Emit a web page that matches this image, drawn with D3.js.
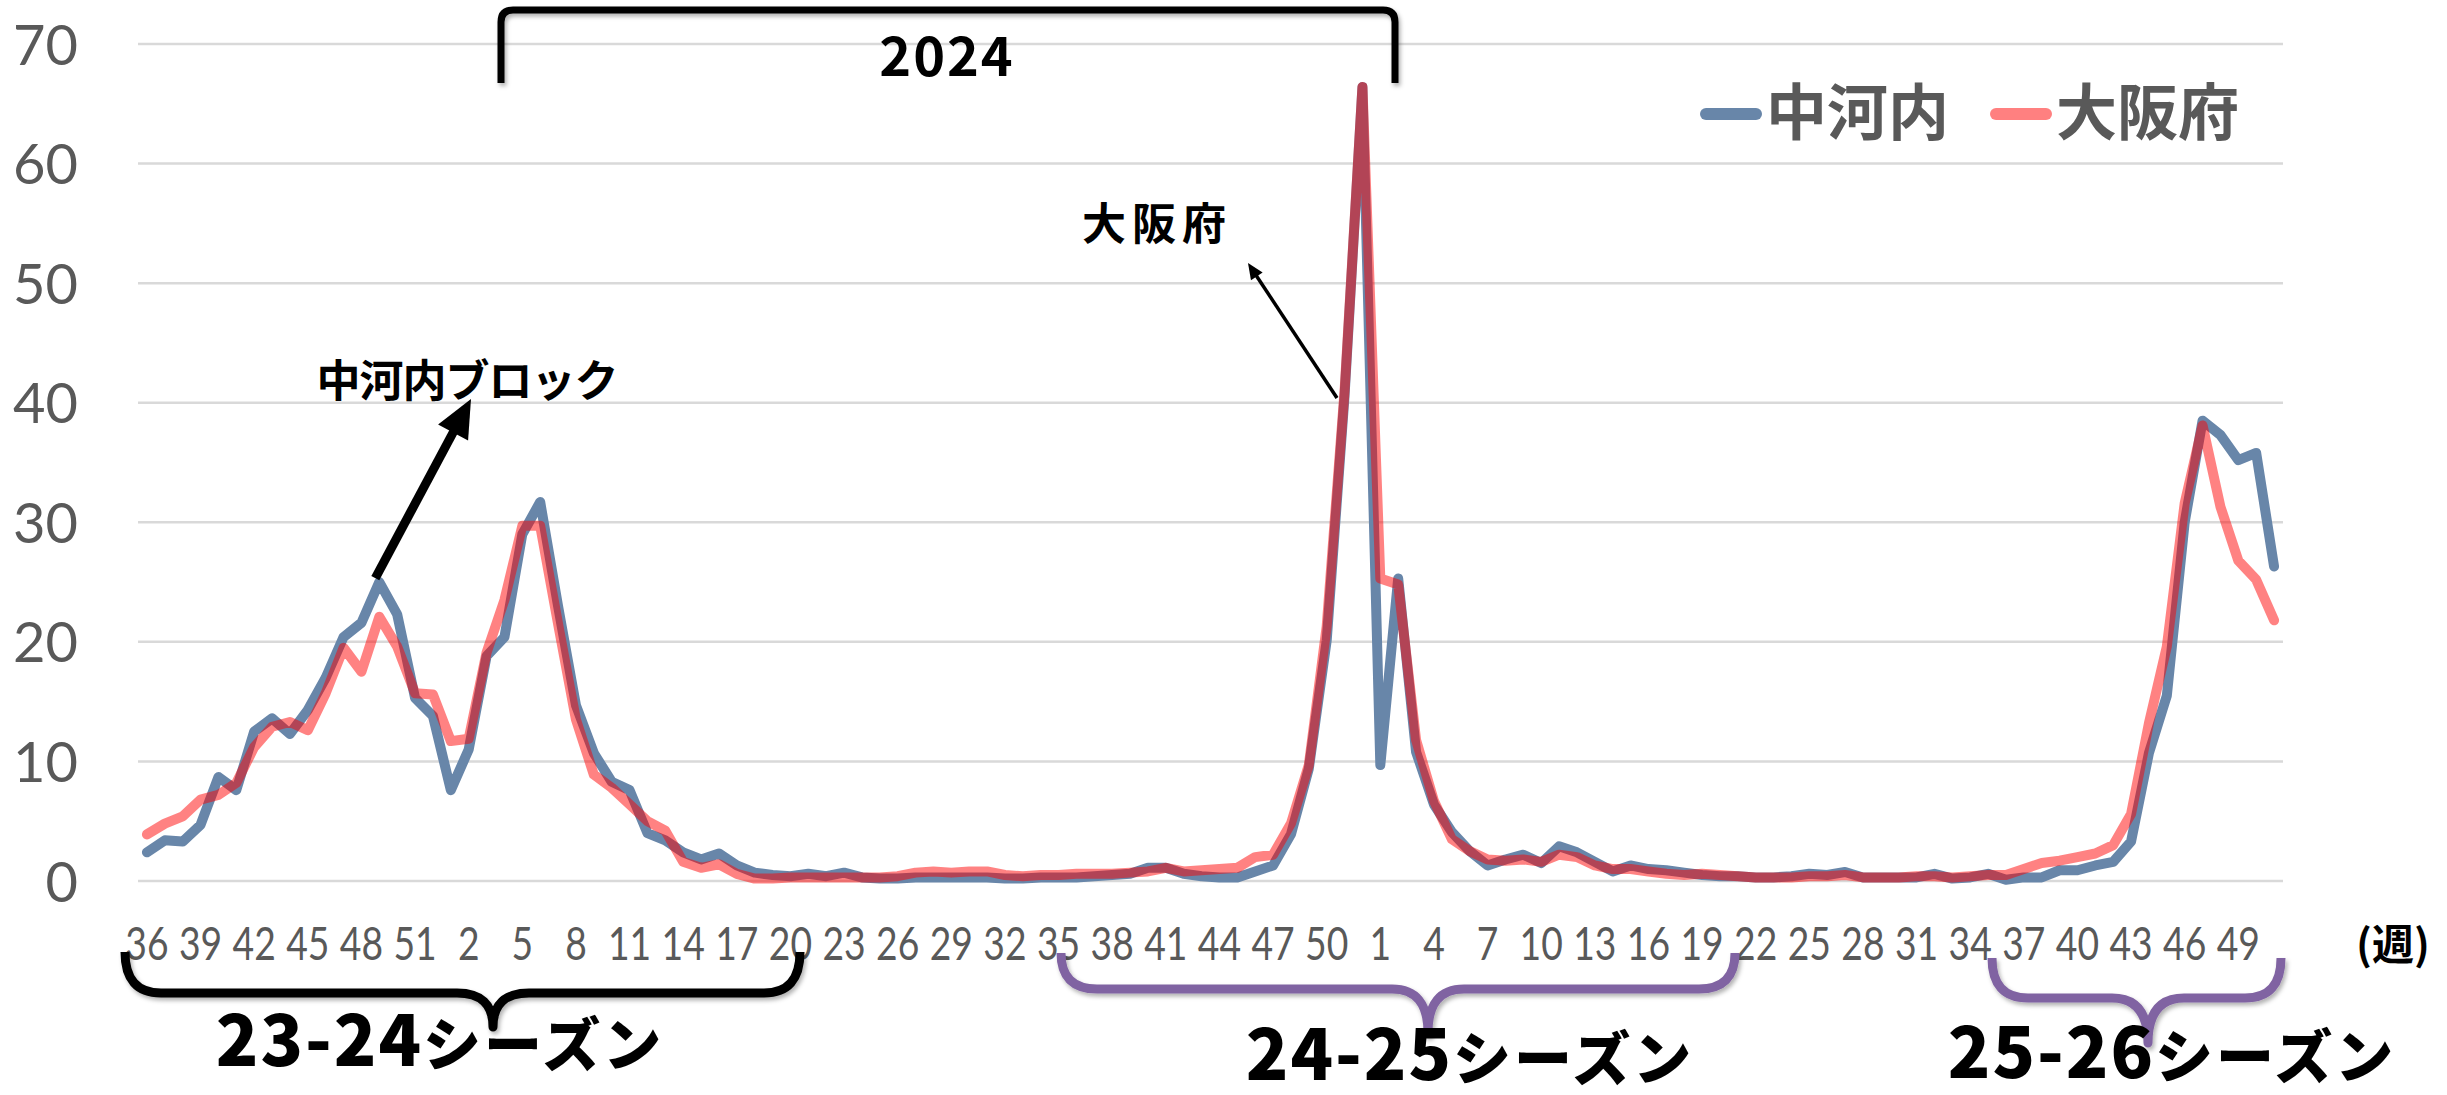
<!DOCTYPE html>
<html>
<head>
<meta charset="utf-8">
<script src="https://cdn.jsdelivr.net/npm/d3@7"></script>
<style>
  body { margin: 0; background: #fff; }
  text { font-family: "Noto Sans CJK JP", "Noto Sans", sans-serif; }
</style>
</head>
<body>
<div id="chart"></div>
<script>
// week numbers, 2023 w36 .. 2025 w51
const weeks = [
  36, 37, 38, 39, 40, 41, 42, 43, 44, 45, 46, 47, 48, 49, 50, 51, 52,
  1, 2, 3, 4, 5, 6, 7, 8, 9, 10, 11, 12, 13, 14, 15, 16, 17, 18, 19, 20, 21, 22, 23, 24, 25, 26,
  27, 28, 29, 30, 31, 32, 33, 34, 35, 36, 37, 38, 39, 40, 41, 42, 43, 44, 45, 46, 47, 48, 49, 50, 51, 52,
  1, 2, 3, 4, 5, 6, 7, 8, 9, 10, 11, 12, 13, 14, 15, 16, 17, 18, 19, 20, 21, 22, 23, 24, 25,
  26, 27, 28, 29, 30, 31, 32, 33, 34, 35, 36, 37, 38, 39, 40, 41, 42, 43, 44, 45, 46, 47, 48, 49, 50, 51
];

// 中河内ブロック
const nakakawachi = [
  2.4, 3.4, 3.3, 4.7, 8.7, 7.6, 12.5, 13.6, 12.3, 14.3,
  17.0, 20.4, 21.6, 25.0, 22.3, 15.3, 13.8, 7.6, 11.0, 18.8,
  20.4, 29.0, 31.7, 23.0, 14.7, 10.7, 8.3, 7.6, 4.0, 3.4,
  2.4, 1.8, 2.3, 1.3, 0.7, 0.5, 0.4, 0.6, 0.4, 0.7,
  0.3, 0.2, 0.2, 0.3, 0.3, 0.3, 0.3, 0.3, 0.2, 0.2,
  0.3, 0.3, 0.3, 0.4, 0.5, 0.6, 1.1, 1.1, 0.6, 0.4,
  0.3, 0.3, 0.8, 1.3, 3.9, 9.4, 20.1, 40.6, 66.4, 9.7,
  25.3, 10.8, 6.4, 4.1, 2.5, 1.3, 1.8, 2.2, 1.5, 2.9,
  2.4, 1.6, 0.8, 1.3, 1.0, 0.9, 0.7, 0.5, 0.4, 0.4,
  0.3, 0.3, 0.4, 0.6, 0.5, 0.75, 0.3, 0.3, 0.3, 0.3,
  0.6, 0.2, 0.3, 0.6, 0.1, 0.3, 0.3, 0.9, 0.9, 1.3,
  1.6, 3.3, 10.7, 15.5, 30.0, 38.5, 37.3, 35.2, 35.8, 26.3
];

// 大阪府
const osaka = [
  3.9, 4.8, 5.4, 6.8, 7.2, 8.2, 11.2, 12.9, 13.3, 12.6,
  15.7, 19.5, 17.5, 22.1, 19.6, 15.7, 15.6, 11.7, 11.9, 19.1,
  23.5, 29.7, 29.7, 21.5, 13.5, 8.9, 7.8, 6.4, 5.0, 4.2,
  1.6, 1.1, 1.4, 0.6, 0.2, 0.2, 0.3, 0.3, 0.3, 0.3,
  0.3, 0.3, 0.4, 0.7, 0.8, 0.7, 0.8, 0.8, 0.5, 0.4,
  0.5, 0.5, 0.6, 0.6, 0.6, 0.7, 0.8, 1.1, 0.8, 0.9,
  1.0, 1.1, 2.0, 2.2, 4.8, 9.7, 21.3, 41.0, 66.4, 25.3,
  24.8, 11.8, 6.7, 3.5, 2.5, 1.8, 1.7, 1.8, 1.6, 2.2,
  2.0, 1.3, 1.0, 1.0, 0.8, 0.6, 0.5, 0.6, 0.5, 0.4,
  0.3, 0.3, 0.3, 0.4, 0.4, 0.5, 0.3, 0.3, 0.3, 0.4,
  0.4, 0.3, 0.4, 0.5, 0.5, 1.0, 1.5, 1.7, 2.0, 2.3,
  3.0, 5.6, 13.2, 19.6, 31.6, 38.1, 31.3, 26.8, 25.2, 21.8
];

const yTicks = [0, 10, 20, 30, 40, 50, 60, 70];
const seriesNames = ["中河内", "大阪府"];
const seasonYears = ["23-24", "24-25", "25-26"];
const seasonWord = "シーズン";

const W = 2447, H = 1095;
const plot = { left: 138, right: 2283, top: 44, bottom: 881 };

const svg = d3.select("#chart")
  .append("svg")
  .attr("width", W)
  .attr("height", H);

const defs = svg.append("defs");
defs.append("filter")
  .attr("id", "shadow")
  .attr("x", "-10%").attr("y", "-20%").attr("width", "120%").attr("height", "160%")
  .append("feDropShadow")
  .attr("dx", 2).attr("dy", 3)
  .attr("stdDeviation", 2)
  .attr("flood-color", "#000")
  .attr("flood-opacity", 0.3);

// Scales
const x = d3.scaleBand()
  .domain(d3.range(weeks.length))
  .range([plot.left, plot.right]);
const cx = i => x(i) + x.bandwidth() / 2;

const y = d3.scaleLinear()
  .domain([0, 70])
  .range([plot.bottom, plot.top]);

// Gridlines
svg.append("g")
  .selectAll("line")
  .data(yTicks)
  .enter().append("line")
  .attr("x1", plot.left)
  .attr("x2", plot.right)
  .attr("y1", d => y(d))
  .attr("y2", d => y(d))
  .attr("stroke", "#d9d9d9")
  .attr("stroke-width", 2.5);

// Y axis labels
const yAxis = svg.append("g")
  .attr("transform", `translate(78,0)`)
  .call(d3.axisLeft(y).tickValues(yTicks).tickSize(0).tickPadding(0));
yAxis.select(".domain").remove();
yAxis.selectAll("text")
  .attr("dy", 20)
  .style("font-family", "Lato, 'Open Sans', sans-serif")
  .style("font-size", "56px")
  .attr("fill", "#595959");

// X axis labels, every third week
const xAxis = svg.append("g")
  .attr("transform", `translate(0,${plot.bottom})`)
  .call(d3.axisBottom(x)
    .tickValues(d3.range(0, weeks.length, 3))
    .tickFormat(i => weeks[i])
    .tickSize(0));
xAxis.select(".domain").remove();
xAxis.selectAll("text")
  .attr("y", 79)
  .attr("dy", 0)
  .attr("transform", "scale(0.81,1)")
  .style("font-family", "Lato, 'Open Sans', sans-serif")
  .style("font-size", "46px")
  .attr("fill", "#595959");

svg.append("text")
  .attr("x", 2356)
  .attr("y", 960)
  .style("font-size", "42px")
  .style("font-weight", "bold")
  .attr("fill", "#000")
  .text("(週)");

// Lines
const line = d3.line()
  .x((d, i) => cx(i))
  .y(d => y(d));

svg.append("path")
  .datum(nakakawachi)
  .attr("d", line)
  .attr("fill", "none")
  .attr("stroke", "#6886a9")
  .attr("stroke-width", 10)
  .attr("stroke-linejoin", "round")
  .attr("stroke-linecap", "round");

svg.append("path")
  .datum(osaka)
  .attr("d", line)
  .attr("fill", "none")
  .attr("stroke", "#ff0000")
  .attr("stroke-opacity", 0.49)
  .attr("stroke-width", 10)
  .attr("stroke-linejoin", "round")
  .attr("stroke-linecap", "round");

// Legend
const legend = [
  { name: seriesNames[0], color: "#6886a9", x: 1706 },
  { name: seriesNames[1], color: "#ff8080", x: 1996 }
];
legend.forEach(l => {
  svg.append("line")
    .attr("x1", l.x).attr("x2", l.x + 50)
    .attr("y1", 114).attr("y2", 114)
    .attr("stroke", l.color)
    .attr("stroke-width", 12)
    .attr("stroke-linecap", "round");
  svg.append("text")
    .attr("x", l.x + 60)
    .attr("y", 135)
    .style("font-size", "61px")
    .style("font-weight", "bold")
    .attr("fill", "#595959")
    .text(l.name);
});

// Arrow helper
function arrow(x1, y1, x2, y2, width, headLen, headHalf) {
  const dx = x2 - x1, dy = y2 - y1;
  const len = Math.hypot(dx, dy);
  const ux = dx / len, uy = dy / len;
  const nx = -uy, ny = ux;
  const bx = x2 - ux * headLen, by = y2 - uy * headLen;
  svg.append("line")
    .attr("x1", x1).attr("y1", y1)
    .attr("x2", bx + ux * 2).attr("y2", by + uy * 2)
    .attr("stroke", "#000")
    .attr("stroke-width", width);
  svg.append("polygon")
    .attr("points", [[x2, y2], [bx + nx * headHalf, by + ny * headHalf], [bx - nx * headHalf, by - ny * headHalf]].join(" "))
    .attr("fill", "#000");
}

// 中河内ブロック annotation, from its 2023 w49 point
arrow(cx(13) - 4, y(nakakawachi[13]) - 4, 471, 399, 9, 38, 17);
svg.append("text")
  .attr("x", 467)
  .attr("y", 397)
  .attr("text-anchor", "middle")
  .style("font-size", "44px")
  .style("font-weight", "bold")
  .style("letter-spacing", "-1px")
  .text("中河内ブロック");

// 大阪府 annotation
arrow(1337, 398, 1248, 263, 3.5, 16, 7);
svg.append("text")
  .attr("x", 1157)
  .attr("y", 240)
  .attr("text-anchor", "middle")
  .style("font-size", "44px")
  .style("font-weight", "bold")
  .style("letter-spacing", "6px")
  .text("大阪府");

// 2024 bracket
svg.append("path")
  .attr("d", "M501,83 L501,22 Q501,10 513,10 L1383,10 Q1395,10 1395,22 L1395,83")
  .attr("fill", "none")
  .attr("stroke", "#000")
  .attr("stroke-width", 7)
  .attr("filter", "url(#shadow)");
svg.append("text")
  .attr("x", 947)
  .attr("y", 76)
  .attr("text-anchor", "middle")
  .style("font-size", "54px")
  .style("font-weight", "bold")
  .style("letter-spacing", "2px")
  .text("2024");

// Season braces
const braces = [
  { x1: 125, x2: 800, mid: 493, top: 952, bar: 993, tip: 1027, color: "#000", lx: 440, ly: 1066 },
  { x1: 1061, x2: 1735, mid: 1428, top: 953, bar: 989, tip: 1033, color: "#8064a2", lx: 1470, ly: 1080 },
  { x1: 1992, x2: 2281, mid: 2148, top: 958, bar: 998, tip: 1043, color: "#8064a2", lx: 2172, ly: 1078 }
];
braces.forEach((b, k) => {
  const r = 36;
  const d = `M${b.x1},${b.top} Q${b.x1},${b.bar} ${b.x1 + r},${b.bar} L${b.mid - r},${b.bar} Q${b.mid},${b.bar} ${b.mid},${b.tip}` +
            ` Q${b.mid},${b.bar} ${b.mid + r},${b.bar} L${b.x2 - r},${b.bar} Q${b.x2},${b.bar} ${b.x2},${b.top}`;
  svg.append("path")
    .attr("d", d)
    .attr("fill", "none")
    .attr("stroke", b.color)
    .attr("stroke-width", 9)
    .attr("stroke-linejoin", "round")
    .attr("filter", "url(#shadow)");
  const t = svg.append("text")
    .attr("x", b.lx)
    .attr("y", b.ly)
    .attr("text-anchor", "middle")
    .style("font-weight", "900")
    .attr("fill", "#000");
  t.append("tspan")
    .style("font-size", "70px")
    .style("letter-spacing", "2px")
    .text(seasonYears[k]);
  t.append("tspan")
    .style("font-size", "58px")
    .style("letter-spacing", "3px")
    .text(seasonWord);
});
</script>
</body>
</html>
